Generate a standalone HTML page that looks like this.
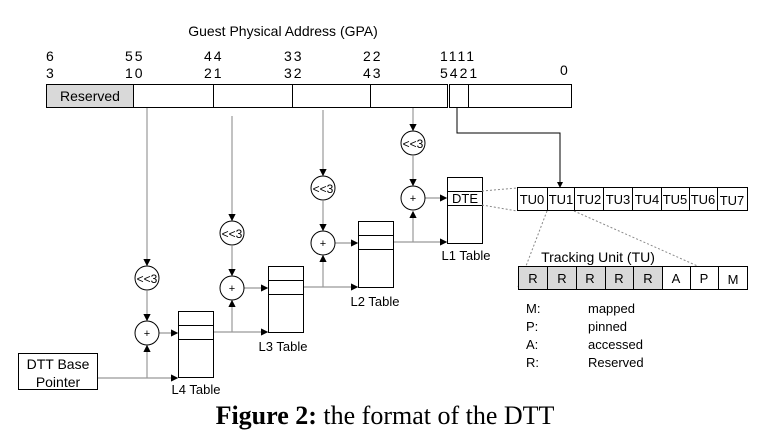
<!DOCTYPE html>
<html><head><meta charset="utf-8"><style>
html,body{margin:0;padding:0;background:#fff}
svg{display:block}
text{font-family:"Liberation Sans",sans-serif}
</style></head><body>
<svg width="780" height="438" viewBox="0 0 780 438" xmlns="http://www.w3.org/2000/svg">
<defs>
<marker id="a" markerWidth="6" markerHeight="6" refX="5" refY="3" orient="auto"><path d="M0,0 L6,3 L0,6 z" fill="#000"/></marker>
</defs>
<text x="283" y="36" font-size="14" text-anchor="middle">Guest Physical Address (GPA)</text>
<g font-size="14" letter-spacing="2">
<text x="46" y="61">6</text><text x="46" y="78">3</text>
<text x="125" y="61">55</text><text x="125" y="78">10</text>
<text x="204" y="61">44</text><text x="204" y="78">21</text>
<text x="284" y="61">33</text><text x="284" y="78">32</text>
<text x="363" y="61">22</text><text x="363" y="78">43</text>
<text x="440" y="61">1111</text><text x="440" y="78">5421</text>
<text x="560" y="75">0</text>
</g>
<rect x="46.5" y="84.5" width="87" height="23" fill="#d9d9d9" stroke="#000"/>
<rect x="133.5" y="84.5" width="314" height="23" fill="#fff" stroke="#000"/>
<rect x="449.5" y="84.5" width="122" height="23" fill="#fff" stroke="#000"/>
<g stroke="#000"><line x1="213.5" y1="84" x2="213.5" y2="108"/><line x1="292.5" y1="84" x2="292.5" y2="108"/><line x1="370.5" y1="84" x2="370.5" y2="108"/><line x1="468.5" y1="84" x2="468.5" y2="108"/></g>
<text x="90" y="101" font-size="14" text-anchor="middle">Reserved</text>

<g stroke="#999" fill="none" stroke-width="1.2">
<line x1="147" y1="108" x2="147" y2="265" marker-end="url(#a)"/>
<line x1="147" y1="291" x2="147" y2="320" marker-end="url(#a)"/>
<line x1="232" y1="116" x2="232" y2="220" marker-end="url(#a)"/>
<line x1="232" y1="246" x2="232" y2="275" marker-end="url(#a)"/>
<line x1="323" y1="110" x2="323" y2="175" marker-end="url(#a)"/>
<line x1="323" y1="201" x2="323" y2="230" marker-end="url(#a)"/>
<line x1="413" y1="108" x2="413" y2="130" marker-end="url(#a)"/>
<line x1="413" y1="156" x2="413" y2="185" marker-end="url(#a)"/>
<line x1="97" y1="378" x2="177" y2="378" marker-end="url(#a)"/>
<line x1="147" y1="378" x2="147" y2="346" marker-end="url(#a)"/>
<line x1="159" y1="333" x2="177" y2="333" marker-end="url(#a)"/>
<line x1="213" y1="332" x2="267" y2="332" marker-end="url(#a)"/>
<line x1="232" y1="332" x2="232" y2="301" marker-end="url(#a)"/>
<line x1="244" y1="288" x2="267" y2="288" marker-end="url(#a)"/>
<line x1="303" y1="287" x2="357" y2="287" marker-end="url(#a)"/>
<line x1="323" y1="287" x2="323" y2="256" marker-end="url(#a)"/>
<line x1="335" y1="243" x2="357" y2="243" marker-end="url(#a)"/>
<line x1="393" y1="242" x2="446" y2="242" marker-end="url(#a)"/>
<line x1="413" y1="242" x2="413" y2="212" marker-end="url(#a)"/>
<line x1="425" y1="198" x2="446" y2="198" marker-end="url(#a)"/>
</g>
<path d="M457,108 V133 H560 V187" stroke="#000" fill="none" marker-end="url(#a)"/>

<g fill="#fff" stroke="#000">
<circle cx="147" cy="278" r="12"/><circle cx="232" cy="233" r="12"/><circle cx="323" cy="188" r="12"/><circle cx="413" cy="143" r="12"/>
<circle cx="147" cy="333" r="12"/><circle cx="232" cy="288" r="12"/><circle cx="323" cy="243" r="12"/><circle cx="413" cy="198" r="12"/>
</g>
<g font-size="12" text-anchor="middle">
<text x="147" y="283">&lt;&lt;3</text><text x="232" y="238">&lt;&lt;3</text><text x="323" y="193">&lt;&lt;3</text><text x="413" y="148">&lt;&lt;3</text>
<text x="147" y="337" font-size="11">+</text><text x="232" y="292" font-size="11">+</text><text x="323" y="247" font-size="11">+</text><text x="413" y="202" font-size="11">+</text>
</g>

<g fill="#fff" stroke="#000">
<rect x="178.5" y="311.5" width="35" height="66"/><line x1="178" y1="325.5" x2="213" y2="325.5"/><line x1="178" y1="339.5" x2="213" y2="339.5"/>
<rect x="268.5" y="266.5" width="35" height="66"/><line x1="268" y1="280.5" x2="303" y2="280.5"/><line x1="268" y1="294.5" x2="303" y2="294.5"/>
<rect x="358.5" y="221.5" width="35" height="66"/><line x1="358" y1="235.5" x2="393" y2="235.5"/><line x1="358" y1="249.5" x2="393" y2="249.5"/>
<rect x="447.5" y="177.5" width="35" height="66"/><line x1="447" y1="191.5" x2="482" y2="191.5"/><line x1="447" y1="205.5" x2="482" y2="205.5"/>
<rect x="18.5" y="353.5" width="79" height="36"/>
</g>
<g font-size="13" text-anchor="middle">
<text x="196" y="394">L4 Table</text><text x="283" y="351">L3 Table</text><text x="375" y="306">L2 Table</text><text x="466" y="260">L1 Table</text>
<text x="465" y="203">DTE</text>
<text x="58" y="369" font-size="14">DTT Base</text><text x="58" y="387" font-size="14">Pointer</text>
</g>

<g stroke="#888" stroke-dasharray="2,2" fill="none">
<line x1="482" y1="191" x2="517" y2="188"/><line x1="482" y1="205" x2="517" y2="211"/>
<line x1="547" y1="211" x2="518" y2="287"/><line x1="574" y1="211" x2="747" y2="288"/>
</g>
<rect x="517.5" y="187.5" width="230" height="23" fill="#fff" stroke="#000"/>
<g stroke="#000"><line x1="547.5" y1="187" x2="547.5" y2="211"/><line x1="574.5" y1="187" x2="574.5" y2="211"/><line x1="603.5" y1="187" x2="603.5" y2="211"/><line x1="632.5" y1="187" x2="632.5" y2="211"/><line x1="661.5" y1="187" x2="661.5" y2="211"/><line x1="689.5" y1="187" x2="689.5" y2="211"/><line x1="717.5" y1="187" x2="717.5" y2="211"/></g>
<g font-size="13" text-anchor="middle">
<text x="532" y="204">TU0</text><text x="561" y="204">TU1</text><text x="589" y="204">TU2</text><text x="618" y="204">TU3</text><text x="647" y="204">TU4</text><text x="675" y="204">TU5</text><text x="703" y="204">TU6</text><text x="732" y="205">TU7</text>
</g>
<text x="598" y="262" font-size="14" text-anchor="middle">Tracking Unit (TU)</text>
<rect x="518.5" y="266.5" width="144" height="23" fill="#d9d9d9" stroke="#000"/>
<rect x="662.5" y="266.5" width="85" height="23" fill="#fff" stroke="#000"/>
<g stroke="#000"><line x1="547.5" y1="266" x2="547.5" y2="290"/><line x1="576.5" y1="266" x2="576.5" y2="290"/><line x1="605.5" y1="266" x2="605.5" y2="290"/><line x1="633.5" y1="266" x2="633.5" y2="290"/><line x1="690.5" y1="266" x2="690.5" y2="290"/><line x1="718.5" y1="266" x2="718.5" y2="290"/></g>
<g font-size="13" text-anchor="middle">
<text x="533" y="283">R</text><text x="562" y="283">R</text><text x="590" y="283">R</text><text x="619" y="283">R</text><text x="648" y="283">R</text><text x="676" y="283">A</text><text x="704" y="283">P</text><text x="733" y="284">M</text>
</g>
<g font-size="13">
<text x="526" y="313">M:</text><text x="588" y="313">mapped</text>
<text x="526" y="331">P:</text><text x="588" y="331">pinned</text>
<text x="526" y="349">A:</text><text x="588" y="349">accessed</text>
<text x="526" y="367">R:</text><text x="588" y="367">Reserved</text>
</g>
<text x="385" y="424" font-size="26" text-anchor="middle" style="font-family:'Liberation Serif',serif"><tspan font-weight="bold">Figure 2:</tspan> the format of the DTT</text>
</svg>
</body></html>
